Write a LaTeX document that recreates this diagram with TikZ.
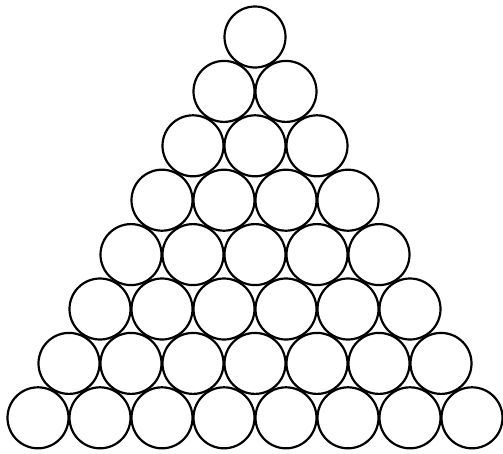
\documentclass[tikz,border=0pt]{standalone}
\begin{document}
\begin{tikzpicture}[x=1pt,y=-1pt,
  ball/.style={circle,draw=black,line width=2.2pt,minimum size=61pt,inner sep=0pt}]
\useasboundingbox (0,0) rectangle (503,453);
\foreach \r in {1,...,8}{
  \foreach \i in {1,...,\r}{
    \node[ball] (c-\r-\i) at ({255+(\i-(\r+1)/2)*62},{37+(\r-1)*54.4}) {};
  }
}
\end{tikzpicture}
\end{document}
